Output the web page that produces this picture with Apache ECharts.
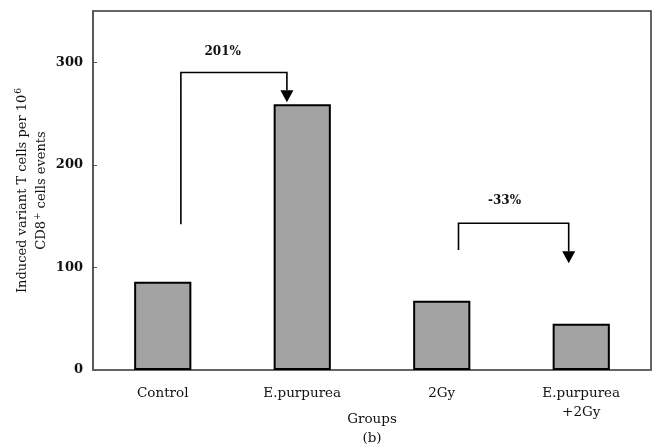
<!DOCTYPE html>
<html>
<head>
<meta charset="utf-8">
<script src="https://cdn.jsdelivr.net/npm/echarts@6/dist/echarts.min.js"></script>
<style>
  html, body { margin: 0; padding: 0; background: #fff; }
  #chart { width: 656px; height: 446px; }
</style>
</head>
<body>
<div id="chart"></div>
<script>
// Groups and the measured counts per group
const groups = ['Control', 'E.purpurea', '2Gy', 'E.purpurea\n+2Gy'];
const counts = [86, 259, 67.5, 45];
const yTicks = { min: 0, max: 350, interval: 100 };

// Change brackets: [x start, y start, y top, x end, y arrow tip] in axis units,
// x measured on a 0..4 scale where group i is centred at i + 0.5
const bracketPaths = [
  [0.63, 142, 290, 1.39, 261],
  [2.62, 117, 143, 3.41, 104]
];
const bracketLabels = ['201%', '-33%'];
const bracketLabelPos = [[0.93, 310], [2.95, 165]];

const serif = '"DejaVu Serif", "Liberation Serif", serif';

const chart = echarts.init(document.getElementById('chart'));

chart.setOption({
  animation: false,
  backgroundColor: '#fff',
  grid: {
    left: 93, right: 5, top: 11, bottom: 76,
    outerBoundsMode: 'none',
    containLabel: false,
    show: true, borderColor: '#333', borderWidth: 1.5, backgroundColor: 'transparent'
  },
  xAxis: [
    {
      type: 'category',
      data: groups,
      name: 'Groups\n(b)',
      nameLocation: 'middle',
      nameGap: 40,
      nameMoveOverlap: false,
      nameTextStyle: { fontFamily: serif, fontSize: 13.5, color: '#111', lineHeight: 19 },
      axisLine: { lineStyle: { color: '#666', width: 1.5 } },
      axisTick: { inside: true, length: 3, lineStyle: { color: '#666' } },
      axisLabel: { fontFamily: serif, fontSize: 13.5, color: '#111', margin: 14, lineHeight: 19 }
    },
    { type: 'value', min: 0, max: 4, show: false }
  ],
  yAxis: {
    type: 'value',
    min: yTicks.min, max: yTicks.max, interval: yTicks.interval,
    name: '{t|Induced variant T cells per 10}{s|6}\n{t|CD8}{s|+}{t| cells events}',
    nameLocation: 'middle',
    nameGap: 42,
    nameRotate: 90,
    nameMoveOverlap: false,
    nameTextStyle: {
      fontFamily: serif, fontSize: 13, color: '#111', lineHeight: 19,
      rich: {
        t: { fontFamily: serif, fontSize: 13, color: '#111', lineHeight: 19 },
        s: { fontFamily: serif, fontSize: 9, color: '#111', lineHeight: 19, verticalAlign: 'top', padding: [1, 0, 0, 1] }
      }
    },
    axisLine: { show: true, lineStyle: { color: '#555', width: 1.5 } },
    axisTick: { show: true, inside: true, length: 4, lineStyle: { color: '#555' } },
    axisLabel: {
      fontFamily: serif, fontSize: 13, fontWeight: 'bold', color: '#111', margin: 10,
      showMaxLabel: false
    },
    splitLine: { show: false }
  },
  series: [
    {
      type: 'bar',
      data: counts,
      barWidth: '41%',
      itemStyle: { color: '#a3a3a3', borderColor: '#000', borderWidth: 2 }
    },
    {
      type: 'custom',
      xAxisIndex: 1,
      data: bracketPaths.map((p, i) => p.concat(bracketLabelPos[i])),
      renderItem: function (params, api) {
        const x0 = api.value(0), y0 = api.value(1), yTop = api.value(2);
        const x1 = api.value(3), yTip = api.value(4);
        const a = api.coord([x0, y0]);
        const b = api.coord([x0, yTop]);
        const c = api.coord([x1, yTop]);
        const tip = api.coord([x1, yTip]);
        const head = 12, half = 6.5;
        const t = api.coord([api.value(5), api.value(6)]);
        return {
          type: 'group',
          children: [
            {
              type: 'polyline',
              shape: { points: [a, b, c, [tip[0], tip[1] - head]] },
              style: { stroke: '#000', lineWidth: 1.6, fill: null }
            },
            {
              type: 'polygon',
              shape: { points: [[tip[0] - half, tip[1] - head], [tip[0] + half, tip[1] - head], tip] },
              style: { fill: '#000' }
            },
            {
              type: 'text',
              x: t[0], y: t[1],
              style: {
                text: bracketLabels[params.dataIndex],
                fontFamily: serif, fontSize: 12, fontWeight: 'bold', fill: '#111',
                align: 'center', verticalAlign: 'middle'
              }
            }
          ]
        };
      }
    }
  ]
});
</script>
</body>
</html>
